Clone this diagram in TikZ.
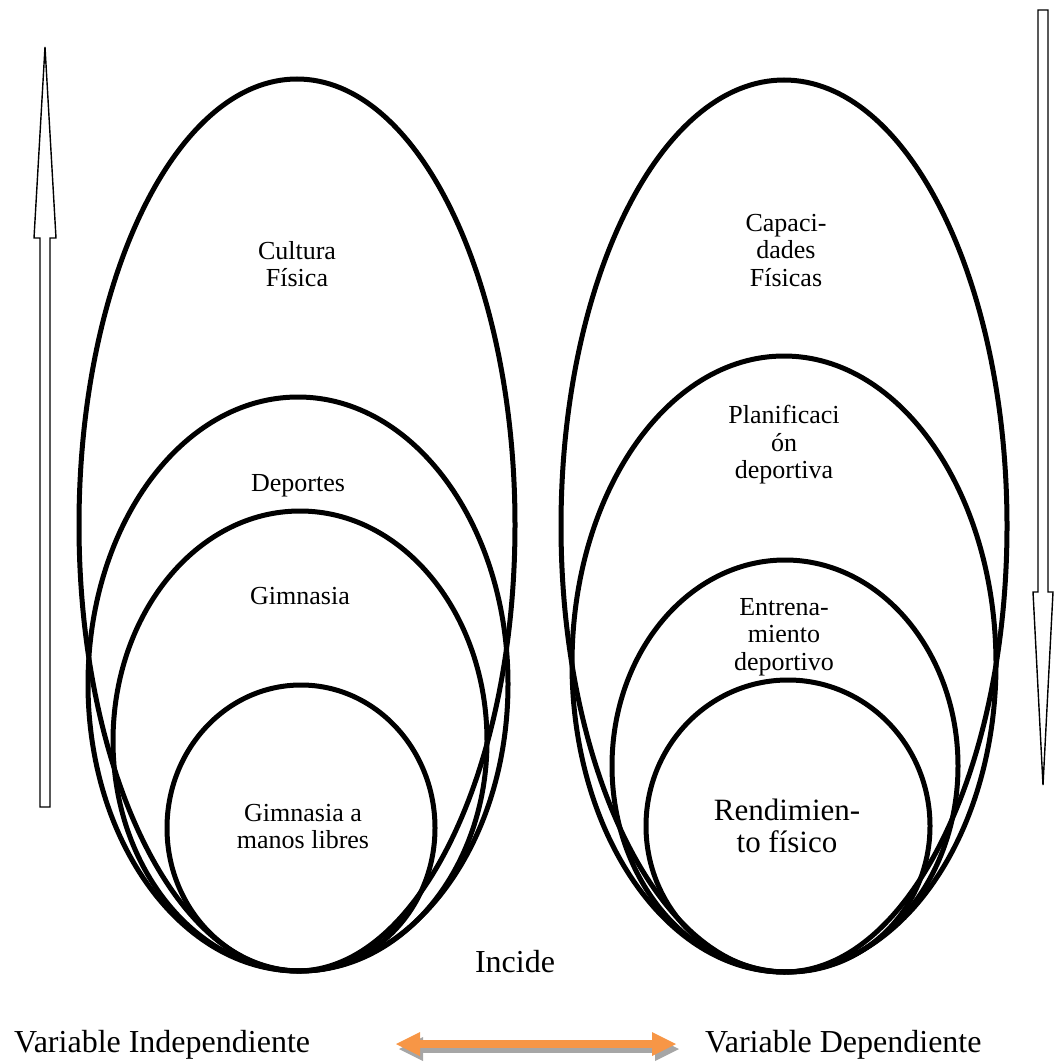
\documentclass[tikz,border=0pt]{standalone}
\usepackage{fontspec}
\setmainfont{Liberation Serif}
\usetikzlibrary{arrows.meta}
\definecolor{arrorange}{HTML}{F79646}
\definecolor{arrshadow}{HTML}{A6A6A6}
\begin{document}
\begin{tikzpicture}[x=1pt,y=-1pt,
  ring/.style={line width=5pt},
  smalllbl/.style={font=\fontsize{26}{27.5}\selectfont, inner sep=0pt, align=center},
  biglbl/.style={font=\fontsize{32}{33}\selectfont, inner sep=0pt},
  blockarrow/.style={draw=black, line width=1.4pt, fill=white, line join=miter},
  fattip/.tip={Triangle[width=24pt,length=24pt,line width=0pt]},
  dblarrow/.style={line width=8pt, fattip-fattip}]
\useasboundingbox (0,0) rectangle (1054,1062);

% left group
\draw[ring] (297,525) ellipse [x radius=218, y radius=446];
\draw[ring] (298,684) ellipse [x radius=210, y radius=287];
\draw[ring] (300,741) ellipse [x radius=187, y radius=230];
\draw[ring] (301,828) ellipse [x radius=134, y radius=143];

% right group
\draw[ring] (784,526) ellipse [x radius=223, y radius=446];
\draw[ring] (784,664) ellipse [x radius=212, y radius=308];
\draw[ring] (785,766) ellipse [x radius=173, y radius=206];
\draw[ring] (788,826) ellipse [x radius=142, y radius=146];

% labels
\node[smalllbl, anchor=north] (cf)  at (297,241) {Cultura\\Física};
\node[smalllbl, anchor=base]  (dep) at (298,491) {Deportes};
\node[smalllbl, anchor=base]  (gim) at (300,604) {Gimnasia};
\node[smalllbl, anchor=north] (gml) at (303,804) {Gimnasia a\\manos libres};
\node[smalllbl, anchor=north] (cap) at (786,214) {Capaci-\\dades\\Físicas};
\node[smalllbl, anchor=north] (pla) at (784,405) {Planificaci\\ón\\deportiva};
\node[smalllbl, anchor=north] (ent) at (784,598) {Entrena-\\miento\\deportivo};
\node[font=\fontsize{31}{32}\selectfont, inner sep=0pt, align=center, anchor=north] (ren) at (787,799) {Rendimien-\\to físico};
\node[biglbl, anchor=base] (inc) at (515,972) {Incide};
\node[biglbl, anchor=base west] (vi) at (14,1052) {Variable Independiente};
\node[biglbl, anchor=base west] (vd) at (705,1052) {Variable Dependiente};

% vertical block arrows
\draw[blockarrow] (40,807) -- (40,238) -- (34,238) -- (45,47) -- (56,238) -- (50,238) -- (50,807) -- cycle;
\draw[blockarrow] (1038,10) -- (1048,10) -- (1048,592) -- (1053,592) -- (1043,785) -- (1033,592) -- (1038,592) -- cycle;

% double arrow between the variables
\coordinate (ol) at (396,1044);
\coordinate (or) at (676,1044);
\draw[dblarrow, arrshadow] ([xshift=3pt,yshift=-5pt]ol) -- ([xshift=3pt,yshift=-5pt]or);
\draw[dblarrow, arrorange] (ol) -- (or);
\end{tikzpicture}
\end{document}
